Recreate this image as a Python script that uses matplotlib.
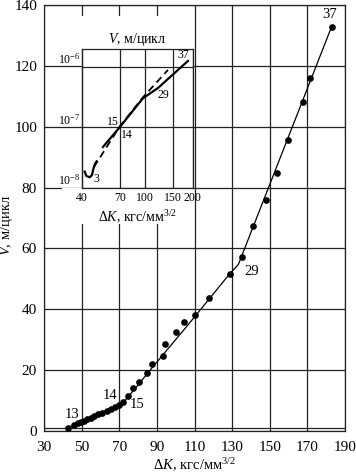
import matplotlib
matplotlib.use("Agg")
import matplotlib.pyplot as plt
from matplotlib.patches import Rectangle
from matplotlib.ticker import FixedLocator, NullLocator, FixedFormatter

plt.rcParams['font.family'] = ['Liberation Serif', 'DejaVu Serif']
plt.rcParams['mathtext.fontset'] = 'custom'
plt.rcParams['mathtext.rm'] = 'Liberation Serif'
plt.rcParams['mathtext.it'] = 'Liberation Serif:italic'

# ---- main data (dK, V) ----
main_x = [42.9, 45.9, 48.2, 49.7, 51.3, 53.0, 55.0, 56.7, 58.9, 61.0, 63.3, 65.4,
          67.7, 69.9, 72.2, 74.8, 77.5, 80.5, 84.9, 87.3, 93.1, 94.5, 100.0, 104.3,
          110.1, 117.9, 128.7, 135.1, 141.3, 148.0, 153.7, 159.9, 167.5, 171.4, 182.9]
main_y = [1.1, 2.0, 2.5, 2.8, 3.4, 3.8, 4.4, 4.9, 5.5, 6.0, 6.6, 7.1,
          8.0, 8.6, 9.4, 11.6, 14.0, 16.2, 19.0, 22.0, 24.5, 28.7, 32.4, 35.8,
          38.0, 43.7, 51.6, 57.3, 67.3, 75.8, 84.7, 95.7, 108.0, 115.9, 132.9]

fit_x = [42.9, 45.9, 48.2, 49.7, 51.3, 53.0, 55.0, 56.7, 58.9, 61.0, 63.3, 65.4,
         67.7, 69.9, 72.2, 79.3, 86.4, 107.0, 128.9, 133.3, 182.9]
fit_y = [1.1, 2.0, 2.5, 2.8, 3.4, 3.8, 4.4, 4.9, 5.5, 6.0, 6.6, 7.1,
         8.0, 8.6, 9.4, 14.6, 20.0, 35.2, 51.8, 54.7, 132.9]

main_xticks = [30, 50, 70, 90, 110, 130, 150, 170, 190]
main_yticks = [0, 20, 40, 60, 80, 100, 120, 140]

point_labels = ["13", "14", "15", "29", "37"]
point_label_x = [44.7, 65.0, 79.3, 140.4, 181.7]
point_label_y = [5.3, 11.8, 8.6, 52.5, 137.0]

# ---- inset data (log-log) ----
hook_x = [41.6, 42.6, 44.8, 46.3, 47.0, 48.3, 49.5]
hook_y = [1.86e-8, 1.58e-8, 1.50e-8, 1.64e-8, 1.98e-8, 2.49e-8, 2.75e-8]
solid_x = [54.3, 69.4, 97.2, 121.1, 146.8, 187.2]
solid_y = [4.74e-8, 1.01e-7, 3.01e-7, 4.45e-7, 7.0e-7, 1.24e-6]
dash_x = [47.5, 69.3, 97.0, 139.9]
dash_y = [2.2e-8, 1.03e-7, 3.1e-7, 8.8e-7]

inset_xticks = [40, 70, 100, 150, 200]
inset_yticks = [1e-8, 1e-7, 1e-6]
inset_ytick_labels = ["$10^{-8}$", "$10^{-7}$", "$10^{-6}$"]
inset_labels = ["3", "14", "15", "29", "37"]
inset_label_x = [49.2, 77.1, 62.9, 130.0, 176.0]
inset_label_y = [1.4e-8, 7.5e-8, 1.24e-7, 3.4e-7, 1.56e-6]

W, H = 356, 474
fig = plt.figure(figsize=(W / 100, H / 100), dpi=100)

def fr(l, t, r, b):
    return [l / W, 1 - b / H, (r - l) / W, (b - t) / H]

ax = fig.add_axes(fr(44, 5, 345, 431))
ax.set_xlim(30, 190)
ax.set_ylim(0, 140)
ax.set_xticks(main_xticks)
ax.set_yticks(main_yticks)
ax.tick_params(length=0, labelsize=11)
ax.tick_params(axis='x', pad=7)
ax.tick_params(axis='y', pad=5)
ax.grid(True, color='#222222', lw=0.9)
ax.set_axisbelow(True)
ax.axhline(1.1, color='#222222', lw=0.9, zorder=0.6)
for s in ax.spines.values():
    s.set_linewidth(0.9)
    s.set_color('#222222')

ax.plot(fit_x, fit_y, color='black', lw=0.9, zorder=3)
ax.plot(main_x, main_y, 'o', color='black', ms=3.8, zorder=4)
for t, x, y in zip(point_labels, point_label_x, point_label_y):
    ax.text(x, y, t, fontsize=10.5, ha='center', va='center', zorder=5)

ax.set_xlabel(r"Δ$K$, кгс/мм$^{3/2}$", fontsize=10.5, labelpad=2)
fig.text(7 / W, 1 - 225 / H, r"$V$, м/цикл", fontsize=10.5, rotation=90,
         ha='center', va='center')

# white patches hiding grid around inset title / xlabel
for (l, t, r, b) in [(62, 16, 194, 49), (62, 188, 194, 224)]:
    ax.add_patch(Rectangle((l / W, 1 - b / H), (r - l) / W, (b - t) / H,
                           transform=fig.transFigure, facecolor='white',
                           edgecolor='none', zorder=1))

# ---- inset ----
axi = fig.add_axes(fr(82, 49, 192.5, 188), zorder=2)
axi.set_facecolor('white')
axi.set_xscale('log')
axi.set_yscale('log')
axi.set_xlim(40, 200)
axi.set_ylim(1e-8, 1.95e-6)
axi.xaxis.set_major_locator(FixedLocator(inset_xticks))
axi.xaxis.set_major_formatter(FixedFormatter([str(v) for v in inset_xticks]))
axi.xaxis.set_minor_locator(NullLocator())
axi.yaxis.set_major_locator(FixedLocator(inset_yticks))
axi.yaxis.set_major_formatter(FixedFormatter(inset_ytick_labels))
axi.yaxis.set_minor_locator(NullLocator())
axi.tick_params(length=0, labelsize=8.5)
axi.tick_params(axis='x', pad=3)
axi.tick_params(axis='y', pad=1)
for lab in axi.get_yticklabels():
    lab.set_verticalalignment('bottom')
axi.grid(True, color='#222222', lw=0.9)
axi.set_axisbelow(True)
for s in axi.spines.values():
    s.set_linewidth(0.9)
    s.set_color('#222222')

axi.plot(hook_x, hook_y, color='black', lw=1.6, zorder=3)
axi.plot(solid_x, solid_y, color='black', lw=1.6, zorder=3)
axi.plot(dash_x, dash_y, color='black', lw=1.3, ls=(0, (4, 2.5)), zorder=3)
for t, x, y in zip(inset_labels, inset_label_x, inset_label_y):
    axi.text(x, y, t, fontsize=8.5, ha='center', va='center', zorder=5)

axi.set_title(r"$V$, м/цикл", fontsize=10, pad=4)
axi.set_xlabel(r"Δ$K$, кгс/мм$^{3/2}$", fontsize=10, labelpad=3)

fig.savefig("out.png", dpi=100)
